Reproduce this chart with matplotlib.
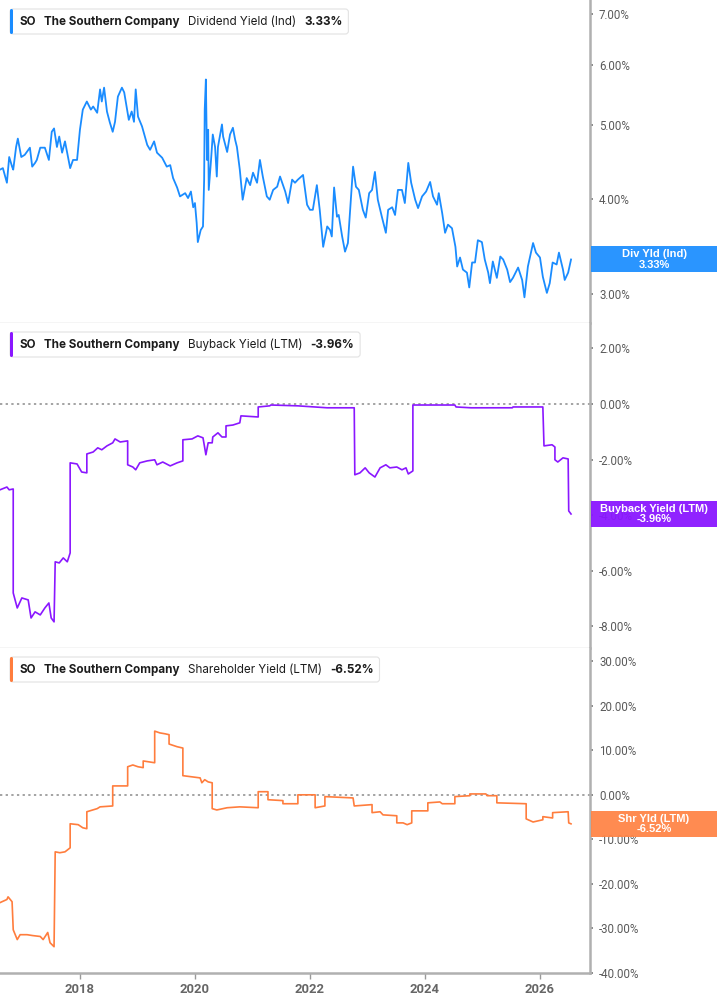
import matplotlib
matplotlib.use("Agg")
import matplotlib.pyplot as plt
import matplotlib.ticker as mtick
from matplotlib.patches import FancyBboxPatch, Rectangle
from matplotlib.transforms import IdentityTransform

# ---- data (decimal years / percent) ----
div_dates = [2016.61, 2016.66, 2016.73, 2016.77, 2016.82, 2016.84, 2016.89, 2016.92, 2016.98, 2017.04,
             2017.13, 2017.17, 2017.22, 2017.25, 2017.31, 2017.39, 2017.46, 2017.51, 2017.55, 2017.60,
             2017.64, 2017.69, 2017.74, 2017.83, 2017.88, 2017.95, 2018.00, 2018.05, 2018.12, 2018.19,
             2018.23, 2018.30, 2018.35, 2018.38, 2018.42, 2018.47, 2018.52, 2018.57, 2018.61, 2018.66,
             2018.73, 2018.77, 2018.80, 2018.85, 2018.90, 2018.94, 2018.97, 2019.01, 2019.08, 2019.17,
             2019.22, 2019.29, 2019.34, 2019.43, 2019.51, 2019.57, 2019.62, 2019.69, 2019.74, 2019.83,
             2019.88, 2019.93, 2019.97, 2020.00, 2020.03, 2020.05, 2020.10, 2020.14, 2020.16, 2020.17,
             2020.19, 2020.21, 2020.23, 2020.24, 2020.28, 2020.31, 2020.35, 2020.38, 2020.40, 2020.47,
             2020.49, 2020.56, 2020.61, 2020.66, 2020.70, 2020.73, 2020.78, 2020.83, 2020.90, 2020.96,
             2021.01, 2021.08, 2021.13, 2021.18, 2021.25, 2021.30, 2021.36, 2021.43, 2021.48, 2021.57,
             2021.62, 2021.69, 2021.74, 2021.79, 2021.88, 2021.95, 2022.00, 2022.05, 2022.12, 2022.17,
             2022.23, 2022.30, 2022.35, 2022.38, 2022.42, 2022.47, 2022.50, 2022.56, 2022.61, 2022.66,
             2022.71, 2022.75, 2022.80, 2022.85, 2022.92, 2022.97, 2023.03, 2023.08, 2023.13, 2023.18,
             2023.25, 2023.32, 2023.36, 2023.43, 2023.48, 2023.53, 2023.60, 2023.65, 2023.71, 2023.76,
             2023.83, 2023.88, 2023.95, 2024.02, 2024.09, 2024.14, 2024.21, 2024.24, 2024.30, 2024.35,
             2024.40, 2024.47, 2024.53, 2024.56, 2024.61, 2024.66, 2024.73, 2024.77, 2024.82, 2024.87,
             2024.92, 2024.99, 2025.04, 2025.10, 2025.13, 2025.18, 2025.25, 2025.31, 2025.36, 2025.43,
             2025.48, 2025.53, 2025.62, 2025.69, 2025.73, 2025.79, 2025.88, 2025.93, 2026.00, 2026.05,
             2026.12, 2026.17, 2026.22, 2026.29, 2026.33, 2026.40, 2026.43, 2026.49, 2026.54]
div_yield = [4.37, 4.39, 4.20, 4.54, 4.41, 4.37, 4.68, 4.80, 4.54, 4.57,
             4.67, 4.41, 4.46, 4.50, 4.67, 4.67, 4.50, 4.90, 4.95, 4.68,
             4.83, 4.60, 4.76, 4.39, 4.50, 4.50, 4.93, 5.24, 5.37, 5.24,
             5.29, 5.19, 5.57, 5.37, 5.60, 5.21, 5.04, 4.90, 5.05, 5.45,
             5.60, 5.52, 5.35, 5.08, 5.21, 5.05, 5.57, 5.13, 4.98, 4.71,
             4.64, 4.76, 4.60, 4.53, 4.41, 4.43, 4.26, 4.14, 4.03, 4.07,
             4.01, 4.09, 3.90, 3.95, 3.72, 3.51, 3.64, 3.68, 4.24, 5.24,
             5.74, 4.50, 4.93, 4.11, 4.50, 4.86, 4.68, 4.28, 4.68, 5.01,
             4.83, 4.61, 4.86, 4.96, 4.78, 4.68, 4.37, 3.99, 4.26, 4.17,
             4.33, 4.20, 4.50, 4.28, 4.03, 3.99, 4.11, 4.15, 4.28, 4.09,
             3.95, 4.24, 4.20, 4.24, 4.30, 3.93, 3.87, 3.87, 4.17, 3.87,
             3.46, 3.68, 3.64, 3.57, 4.14, 3.79, 3.81, 3.57, 3.41, 3.50,
             3.99, 4.41, 4.15, 4.11, 3.87, 3.78, 4.07, 4.11, 4.34, 3.99,
             3.79, 3.61, 3.87, 3.90, 3.81, 4.11, 4.11, 3.95, 4.46, 4.20,
             3.99, 3.89, 4.03, 4.09, 4.21, 4.03, 3.93, 4.07, 3.83, 3.61,
             3.70, 3.66, 3.46, 3.26, 3.35, 3.23, 3.20, 3.06, 3.30, 3.30,
             3.53, 3.51, 3.33, 3.20, 3.10, 3.31, 3.15, 3.36, 3.33, 3.23,
             3.11, 3.15, 3.25, 3.13, 2.97, 3.26, 3.50, 3.40, 3.35, 3.16,
             3.01, 3.10, 3.30, 3.28, 3.40, 3.23, 3.13, 3.20, 3.33]

bb_dates = [2016.61, 2016.73, 2016.77, 2016.84, 2016.84, 2016.91, 2016.99, 2017.10, 2017.15, 2017.22,
            2017.31, 2017.39, 2017.46, 2017.50, 2017.55, 2017.57, 2017.64, 2017.71, 2017.78, 2017.83,
            2017.83, 2017.95, 2018.03, 2018.12, 2018.12, 2018.23, 2018.31, 2018.38, 2018.47, 2018.57,
            2018.61, 2018.70, 2018.83, 2018.83, 2018.92, 2018.97, 2019.04, 2019.17, 2019.30, 2019.34,
            2019.44, 2019.57, 2019.69, 2019.79, 2019.79, 2019.95, 2020.05, 2020.14, 2020.17, 2020.19,
            2020.23, 2020.30, 2020.31, 2020.40, 2020.47, 2020.54, 2020.54, 2020.66, 2020.78, 2020.80,
            2021.10, 2021.10, 2021.30, 2021.32, 2021.79, 2022.30, 2022.77, 2022.78, 2022.87, 2022.96,
            2023.03, 2023.13, 2023.22, 2023.32, 2023.39, 2023.51, 2023.60, 2023.67, 2023.71, 2023.79,
            2023.79, 2024.52, 2024.54, 2024.80, 2025.52, 2025.53, 2026.05, 2026.07, 2026.21, 2026.26,
            2026.26, 2026.31, 2026.40, 2026.49, 2026.50, 2026.54]
bb_yield = [-3.09, -2.99, -3.09, -3.06, -6.80, -7.34, -6.98, -7.05, -7.70, -7.48,
            -7.59, -7.34, -7.16, -7.70, -7.84, -5.68, -5.72, -5.54, -5.68, -5.36,
            -2.12, -2.16, -2.45, -2.48, -1.80, -1.73, -1.58, -1.65, -1.51, -1.40,
            -1.26, -1.37, -1.33, -2.19, -2.27, -2.37, -2.12, -2.05, -2.01, -2.19,
            -2.09, -2.23, -2.12, -2.05, -1.29, -1.26, -1.15, -1.22, -1.58, -1.83,
            -1.40, -1.40, -1.19, -1.04, -1.19, -1.19, -0.79, -0.76, -0.68, -0.43,
            -0.47, -0.11, -0.07, -0.04, -0.07, -0.14, -0.14, -2.55, -2.48, -2.30,
            -2.48, -2.63, -2.30, -2.19, -2.30, -2.27, -2.37, -2.30, -2.52, -2.41,
            -0.04, -0.04, -0.11, -0.14, -0.14, -0.11, -0.11, -1.51, -1.47, -1.55,
            -2.01, -2.09, -1.94, -1.98, -3.85, -3.96]

shr_dates = [2016.61, 2016.73, 2016.75, 2016.82, 2016.84, 2016.91, 2016.96, 2017.08, 2017.18, 2017.31,
             2017.36, 2017.44, 2017.48, 2017.55, 2017.57, 2017.65, 2017.74, 2017.83, 2017.83, 2017.97,
             2018.05, 2018.12, 2018.12, 2018.30, 2018.35, 2018.57, 2018.57, 2018.83, 2018.83, 2018.92,
             2019.01, 2019.10, 2019.10, 2019.30, 2019.30, 2019.39, 2019.48, 2019.55, 2019.55, 2019.69,
             2019.79, 2019.79, 2019.97, 2020.09, 2020.12, 2020.17, 2020.23, 2020.30, 2020.30, 2020.38,
             2020.56, 2020.78, 2021.10, 2021.10, 2021.27, 2021.27, 2021.53, 2021.53, 2021.79, 2021.79,
             2022.09, 2022.09, 2022.26, 2022.26, 2022.75, 2022.77, 2023.08, 2023.08, 2023.22, 2023.27,
             2023.51, 2023.51, 2023.62, 2023.69, 2023.77, 2023.77, 2024.05, 2024.05, 2024.26, 2024.30,
             2024.52, 2024.52, 2024.78, 2024.78, 2025.06, 2025.08, 2025.25, 2025.25, 2025.76, 2025.76,
             2025.88, 2026.05, 2026.05, 2026.22, 2026.22, 2026.49, 2026.50, 2026.54]
shr_yield = [-24.2, -23.5, -22.9, -24.0, -30.3, -32.5, -31.4, -31.4, -31.6, -31.8,
             -32.5, -30.9, -33.2, -34.1, -12.8, -13.0, -12.8, -11.9, -6.5, -6.7,
             -7.4, -7.6, -3.8, -3.1, -2.7, -2.5, 2.0, 2.0, 6.3, 6.7,
             6.3, 6.1, 7.6, 7.2, 14.3, 13.9, 13.7, 13.5, 11.4, 10.8,
             10.5, 4.3, 4.0, 3.8, 2.7, 3.4, 2.9, 2.7, -3.1, -3.4,
             -2.9, -2.7, -2.9, 0.7, 0.7, -1.1, -1.3, -2.0, -2.0, 0.0,
             0.0, -2.9, -2.5, -0.4, -0.7, -2.5, -2.2, -4.0, -3.8, -4.5,
             -4.7, -6.3, -6.3, -6.7, -6.3, -3.6, -3.6, -1.8, -1.6, -2.0,
             -2.0, -0.4, -0.2, 0.2, 0.2, -0.2, -0.2, -1.8, -2.0, -5.4,
             -6.1, -5.6, -4.9, -5.2, -4.0, -3.8, -6.3, -6.52]

ticker = "SO"
company = "The Southern Company"
metric_names = ["Dividend Yield (Ind)", "Buyback Yield (LTM)", "Shareholder Yield (LTM)"]
tag_names = ["Div Yld (Ind)", "Buyback Yield (LTM)", "Shr Yld (LTM)"]
last_values = ["3.33%", "-3.96%", "-6.52%"]
colors = ["#1a8cff", "#8a17ff", "#ff7d3d"]
tag_colors = ["#1e8fff", "#8a17ff", "#ff8547"]

div_ticks = [3, 4, 5, 6, 7]
bb_ticks = [2, 0, -2, -4, -6, -8]
shr_ticks = [30, 20, 10, 0, -10, -20, -30, -40]
year_ticks = [2018, 2020, 2022, 2024, 2026]

# ---- layout (pixels) ----
W, H = 717, 1005
RIGHT = 590
panels = [(0, 323), (323, 648), (648, 973)]
xlim = (2016.61, 2026.87)
ylims = [(2.748, 7.30), (-8.78, 2.91), (-40.0, 32.96)]

fig = plt.figure(figsize=(W / 100, H / 100), dpi=100)
fig.patch.set_facecolor("white")

pct = mtick.FuncFormatter(lambda v, _: f"{v:.2f}%")

axes = []
for i, (top, bot) in enumerate(panels):
    ax = fig.add_axes([0, 1 - bot / H, RIGHT / W, (bot - top) / H])
    ax.set_xlim(xlim)
    for s in ["left", "top"]:
        ax.spines[s].set_visible(False)
    ax.spines["right"].set_color("#b0b0b0")
    ax.spines["right"].set_linewidth(1.8)
    ax.yaxis.tick_right()
    ax.tick_params(axis="y", direction="out", length=2.5, width=1.2, color="#777",
                   pad=4, labelsize=8.3, labelcolor="#5a5a5a")
    if i < 2:
        ax.spines["bottom"].set_color("#cfcfcf")
        ax.spines["bottom"].set_linewidth(1.0)
        ax.set_xticks([])
    else:
        ax.spines["bottom"].set_color("#b0b0b0")
        ax.spines["bottom"].set_linewidth(1.8)
        ax.set_xticks(year_ticks)
        ax.set_xticklabels([str(y) for y in year_ticks])
        ax.tick_params(axis="x", direction="out", length=4, width=1, color="#999",
                       pad=3, labelsize=9.4, labelcolor="#666")
    axes.append(ax)

ax1, ax2, ax3 = axes

ax1.set_yscale("log")
ax1.set_ylim(ylims[0])
ax1.yaxis.set_major_locator(mtick.FixedLocator(div_ticks))
ax1.yaxis.set_minor_locator(mtick.NullLocator())
ax1.yaxis.set_major_formatter(pct)
ax1.plot(div_dates, div_yield, color=colors[0], lw=1.3, zorder=3)

ax2.set_ylim(ylims[1])
ax2.set_yticks(bb_ticks)
ax2.yaxis.set_major_formatter(pct)
ax2.axhline(0, color="#8a8a8a", lw=1.1, ls=(0, (1.5, 2.2)), zorder=1)
ax2.plot(bb_dates, bb_yield, color=colors[1], lw=1.2, zorder=3)

ax3.set_ylim(ylims[2])
ax3.set_yticks(shr_ticks)
ax3.yaxis.set_major_formatter(pct)
ax3.axhline(0, color="#8a8a8a", lw=1.1, ls=(0, (1.5, 2.2)), zorder=1)
ax3.plot(shr_dates, shr_yield, color=colors[2], lw=1.2, zorder=3)

for ax in axes:
    for lab in ax.get_yticklabels():
        lab.set_fontfamily("Roboto")
for lab in ax3.get_xticklabels():
    lab.set_fontfamily("Roboto")
    lab.set_fontweight("bold")

# ---- headers ----
headers = []
for i, ax in enumerate(axes):
    parts = [(ticker, "bold"), (company, "bold"), (metric_names[i], "normal"), (last_values[i], "bold")]
    prev = None
    texts = []
    for txt, wt in parts:
        if prev is None:
            t = ax.annotate(txt, xy=(0, 1), xycoords="axes fraction", xytext=(20, -22),
                            textcoords="offset pixels", va="center", ha="left")
        else:
            t = ax.annotate(txt, xy=(1, 0.5), xycoords=prev, xytext=(8, 0),
                            textcoords="offset pixels", va="center", ha="left")
        t.set_fontfamily(["Inter", "DejaVu Sans"])
        t.set_fontsize(8.4)
        t.set_fontweight(wt)
        t.set_color("#1c1c1c")
        t.set_zorder(6)
        texts.append(t)
        prev = t
    headers.append(texts)

fig.canvas.draw()

for i, ax in enumerate(axes):
    top = panels[i][0]
    right_px = max(t.get_window_extent().x1 for t in headers[i]) + 6
    y0 = H - (top + 34)
    box = FancyBboxPatch((10, y0), right_px - 10, 25, boxstyle="round,pad=0,rounding_size=3",
                         transform=IdentityTransform(), facecolor="white", edgecolor="#e2e2e2",
                         lw=0.8, zorder=5, clip_on=False)
    ax.add_patch(box)
    bar = FancyBboxPatch((10, y0), 3, 25, boxstyle="round,pad=0,rounding_size=1.5",
                         transform=IdentityTransform(), facecolor=colors[i], edgecolor="none",
                         zorder=5.5, clip_on=False)
    ax.add_patch(bar)

# ---- value tags on the right axis ----
series_last = [(div_dates[-1], div_yield[-1]), (bb_dates[-1], bb_yield[-1]), (shr_dates[-1], shr_yield[-1])]
for i, ax in enumerate(axes):
    ypix = ax.transData.transform(series_last[i])[1]
    rect = Rectangle(((RIGHT + 1) / W, (ypix - 13) / H), (W - RIGHT - 1) / W, 26 / H,
                     transform=fig.transFigure, facecolor=tag_colors[i], edgecolor="none",
                     alpha=0.95, zorder=10)
    fig.add_artist(rect)
    fig.text((RIGHT + 1 + (W - RIGHT - 1) / 2) / W, ypix / H,
             f"{tag_names[i]}\n{last_values[i]}", ha="center", va="center", color="white",
             fontsize=8, fontweight="bold", family="Liberation Sans", linespacing=1.05, zorder=11)

fig.savefig("out.png", dpi=100, facecolor="white")
